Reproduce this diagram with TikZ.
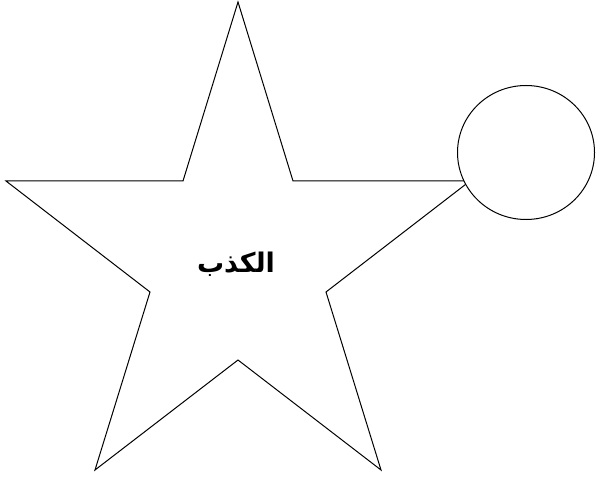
\documentclass[tikz,border=0pt]{standalone}
\usepackage{fontspec}
\usetikzlibrary{shapes.geometric}
\newfontfamily\arabicfont[Script=Arabic]{DejaVu Sans}
\TeXXeTstate=1
\begin{document}
\begin{tikzpicture}[x=1pt,y=-1pt,
  outline/.style={draw=black,line width=1pt,fill=white,line join=miter}]
\useasboundingbox (0,0) rectangle (596,478);
\draw[outline] (238,2) -- (293,181) -- (470,181) -- (326,292) -- (381,470)
  -- (238,360) -- (95,470) -- (150,292) -- (6,181) -- (183,181) -- cycle;
\node[outline,ellipse,minimum width=137pt,minimum height=134pt,inner sep=0pt] (c) at (526,152.5) {};
\node[font=\arabicfont\bfseries\fontsize{27}{30}\selectfont] (t) at (236,264) {\beginR الكذب\endR};
\end{tikzpicture}
\end{document}
